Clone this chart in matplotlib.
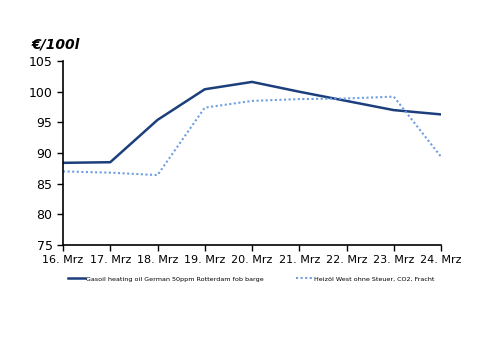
import matplotlib

matplotlib.use("Agg")
import matplotlib.pyplot as plt

DATES = ["16. Mrz", "17. Mrz", "18. Mrz", "19. Mrz", "20. Mrz",
         "21. Mrz", "22. Mrz", "23. Mrz", "24. Mrz"]
GASOIL = [88.4, 88.5, 95.4, 100.4, 101.6, 100.0, 98.5, 97.0, 96.3]
HEIZOEL = [87.0, 86.8, 86.4, 97.4, 98.5, 98.8, 98.9, 99.2, 89.4]
Y_TICKS = [75, 80, 85, 90, 95, 100, 105]

DARK = "#1b3f7c"
LIGHT = "#6e9fe0"

plt.rcParams["font.family"] = ["DejaVu Sans"]

fig = plt.figure(figsize=(5.0, 3.53), dpi=100)
ax = fig.add_axes([0.126, 0.306, 0.756, 0.521])

x = list(range(len(DATES)))
ax.plot(x, GASOIL, color=DARK, linewidth=1.8,
        label="Gasoil heating oil German 50ppm Rotterdam fob barge")
ax.plot(x, HEIZOEL, color=LIGHT, linewidth=1.5, linestyle=(0, (1, 1.2)),
        label="Heizöl West ohne Steuer, CO2, Fracht")

ax.set_xlim(0, len(DATES) - 1)
ax.set_ylim(75, 105)
ax.set_xticks(x)
ax.set_xticklabels(DATES, fontsize=8)
ax.set_yticks(Y_TICKS)
ax.tick_params(axis="y", labelsize=9, length=4, width=1)
ax.tick_params(axis="x", length=4, width=1, pad=3)
ax.spines["top"].set_visible(False)
ax.spines["right"].set_visible(False)
for side in ("left", "bottom"):
    ax.spines[side].set_linewidth(1.2)

fig.text(0.064, 0.875, "€/100l", fontsize=10, fontweight="bold",
         fontstyle="italic", ha="left", va="center")

fig.legend(loc="center", bbox_to_anchor=(0.502, 0.21), ncol=2, frameon=False,
           fontsize=4.6, handlelength=2.7, handletextpad=0.1, columnspacing=5)

fig.savefig("out.png", dpi=100)
